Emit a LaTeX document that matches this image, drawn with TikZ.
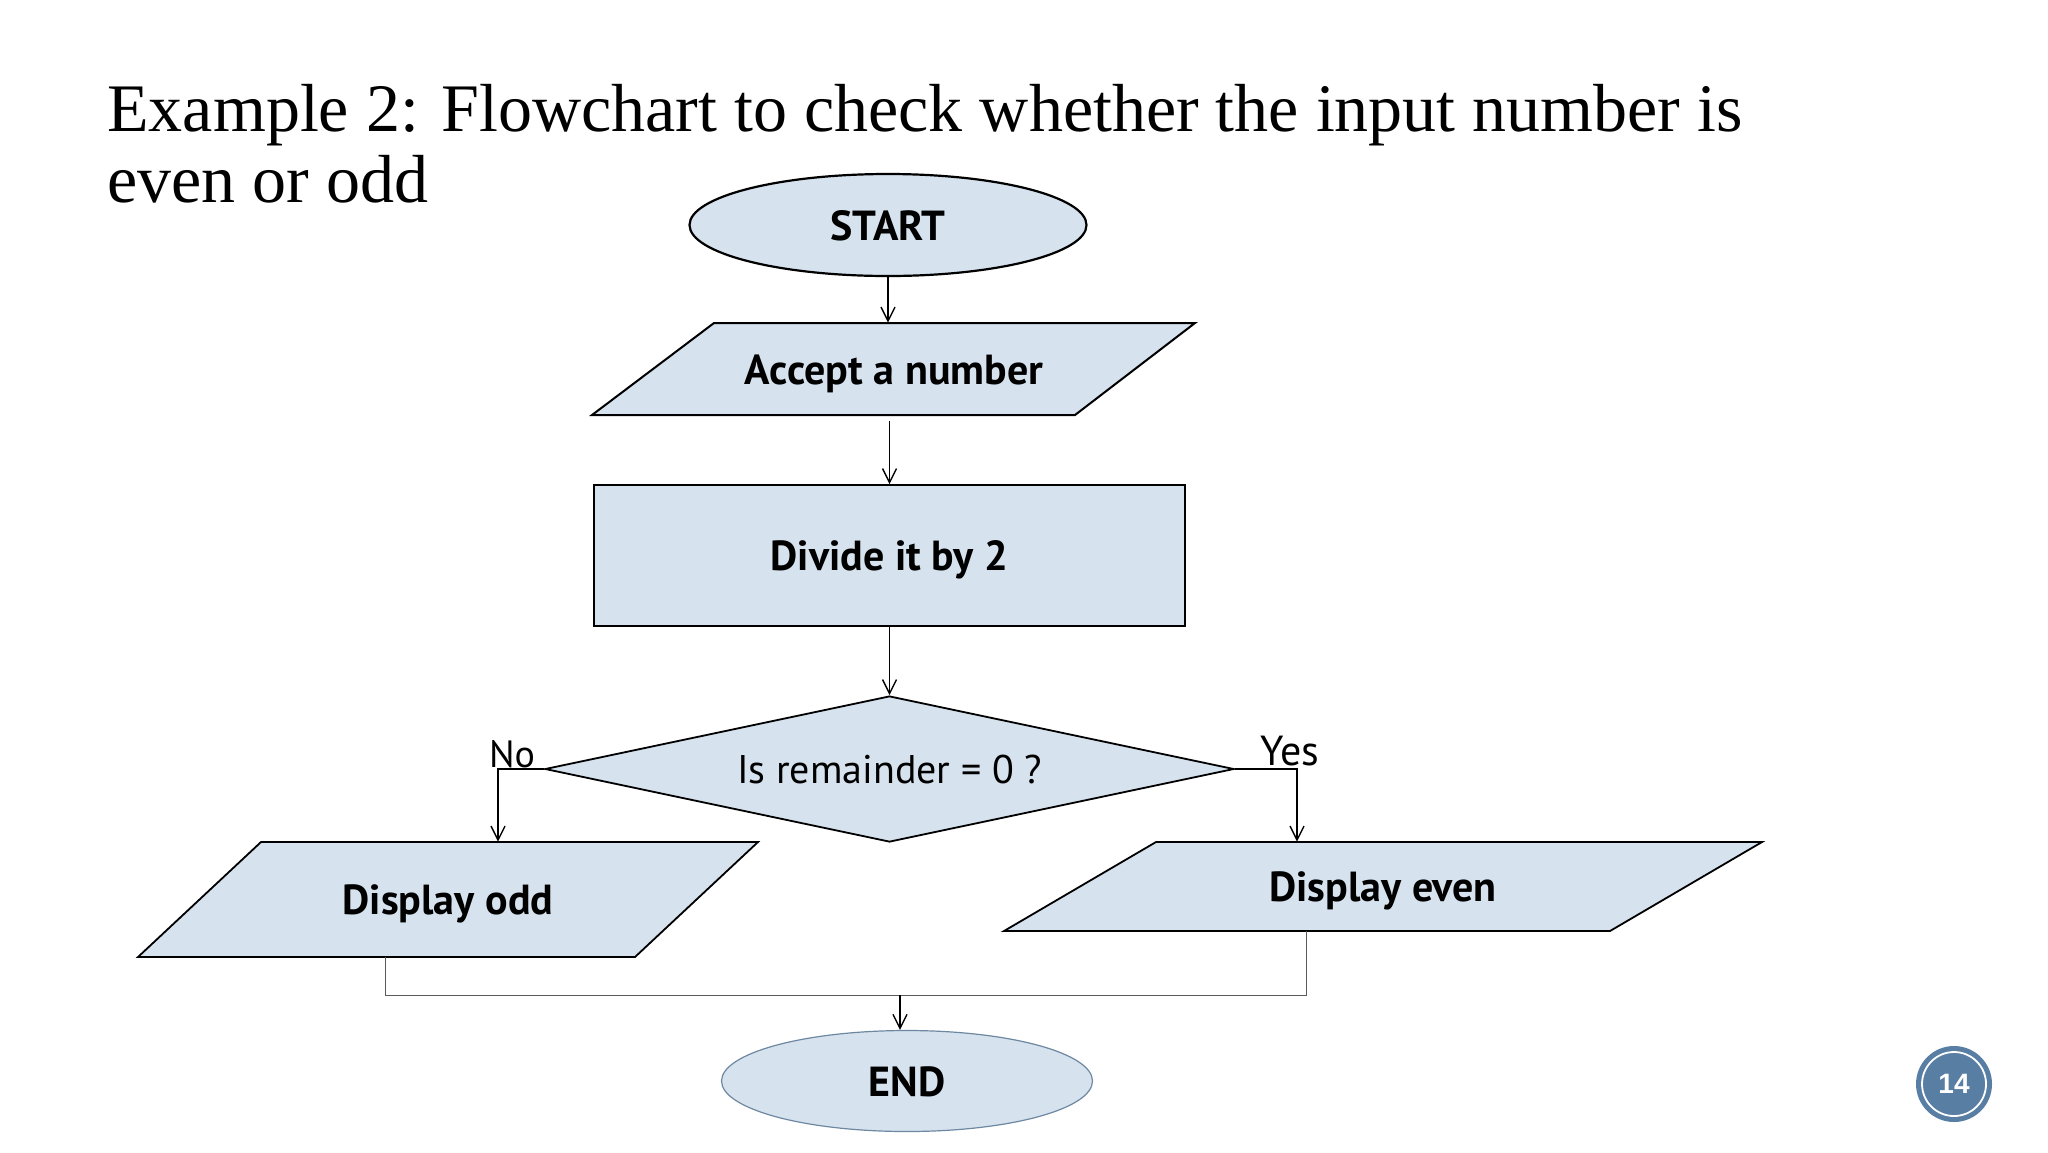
\documentclass[tikz,border=0pt]{standalone}
\usepackage{fontspec}
\setmainfont{Liberation Serif}
\newfontfamily\ptsans{PT Sans}
\newfontfamily\arialf{Liberation Sans}
\usetikzlibrary{shapes.geometric,arrows.meta,calc}
\definecolor{boxfill}{RGB}{214,226,238}
\definecolor{endline}{RGB}{110,136,162}
\definecolor{badge}{RGB}{88,126,164}
\definecolor{mergeline}{RGB}{90,90,90}
\begin{document}
\begin{tikzpicture}[x=0.5pt,y=-0.5pt,
  shapebox/.style={fill=boxfill,draw=black,line width=0.9pt},
  btxt/.style={font=\ptsans\bfseries\fontsize{21}{24}\selectfont,text=black,text height=15pt,text depth=0pt},
  rtxt/.style={font=\ptsans\fontsize{20}{24}\selectfont,text=black},
  lbl/.style={font=\ptsans\fontsize{19}{22}\selectfont,inner sep=0},
  holder/.style={rectangle,inner sep=0,draw=none},
  arr/.style={draw=black,line width=0.7pt,-{Straight Barb[length=7pt,width=7pt,line width=0.7pt]}},
  merge line/.style={draw=mergeline,line width=0.5pt},
  titletxt/.style={font=\fontsize{34}{40}\selectfont,anchor=base west,inner sep=0}]
\useasboundingbox[fill=white] (0,0) rectangle (2048,1152);

% title
\node[titletxt] (t1) at (107,131) {Example 2: Flowchart to check whether the input number is};
\node[titletxt] (t2) at (107,202) {even or odd};

% START
\node[ellipse,fill=boxfill,draw=black,line width=1.1pt,minimum width=198.5pt,minimum height=51pt,inner sep=0,btxt] (start) at (888,225) {START};

% Accept a number
\fill[boxfill] (714,323) -- (1195,323) -- (1075,415) -- (592,415) -- cycle;
\draw[black,line width=1pt,line join=miter] (714,323) -- (1195,323) -- (1075,415) -- (592,415) -- cycle;
\node[holder,minimum width=240.5pt,minimum height=46pt,btxt] (accept) at (894,369) {Accept a number};

% Divide
\node[shapebox,minimum width=295.5pt,minimum height=70.5pt,inner sep=0,btxt] (divide) at (889.5,555.5) {Divide it by 2};

% Decision
\node[diamond,shapebox,shape aspect=4.7,minimum width=344.5pt,minimum height=73pt,inner sep=0,rtxt] (dec) at (889.5,769) {Is remainder = 0 ?};

% Display odd
\draw[shapebox] (261,842) -- (758,842) -- (635,957) -- (138,957) -- cycle;
\node[holder,minimum width=248.5pt,minimum height=57.5pt,btxt] (odd) at (448,899.5) {Display odd};

% Display even
\draw[shapebox] (1156,842) -- (1762,842) -- (1610,931) -- (1004,931) -- cycle;
\node[holder,minimum width=303pt,minimum height=44.5pt,btxt] (even) at (1383,886.5) {Display even};

% END
\node[ellipse,fill=boxfill,draw=endline,line width=0.6pt,minimum width=185.5pt,minimum height=50.5pt,inner sep=0,btxt] (end) at (907,1081) {END};

% labels
\node[lbl,anchor=base] (no) at (512,767) {No};
\node[lbl,anchor=base,font=\ptsans\fontsize{21}{24}\selectfont] (yes) at (1290,765) {Yes};

% connectors
\draw[arr] (start.south) -- (start.south |- accept.north);
\draw[arr,shorten <=3pt] (accept.south -| divide.north) -- (divide.north);
\draw[arr] (divide.south) -- (dec.north);
\draw[arr] (dec.west) -| ($(odd.north)+(50,0)$);
\draw[arr] (dec.east) -| ($(even.north)+(-86,0)$);
\coordinate (merge) at (900,995);
\draw[merge line] ($(odd.south)+(-63,0)$) |- (merge) -| ($(even.south)+(-77,0)$);
\draw[arr] (merge) -- (merge |- end.north);

% page badge
\node[circle,fill=badge,minimum size=38pt,inner sep=0] (badge) at (1954,1084) {};
\draw[white,line width=0.9pt] (badge.center) circle (16pt);
\node[font=\arialf\bfseries\fontsize{14}{16}\selectfont,text=white,inner sep=0] (pnum) at (badge.center) {14};
\end{tikzpicture}
\end{document}
